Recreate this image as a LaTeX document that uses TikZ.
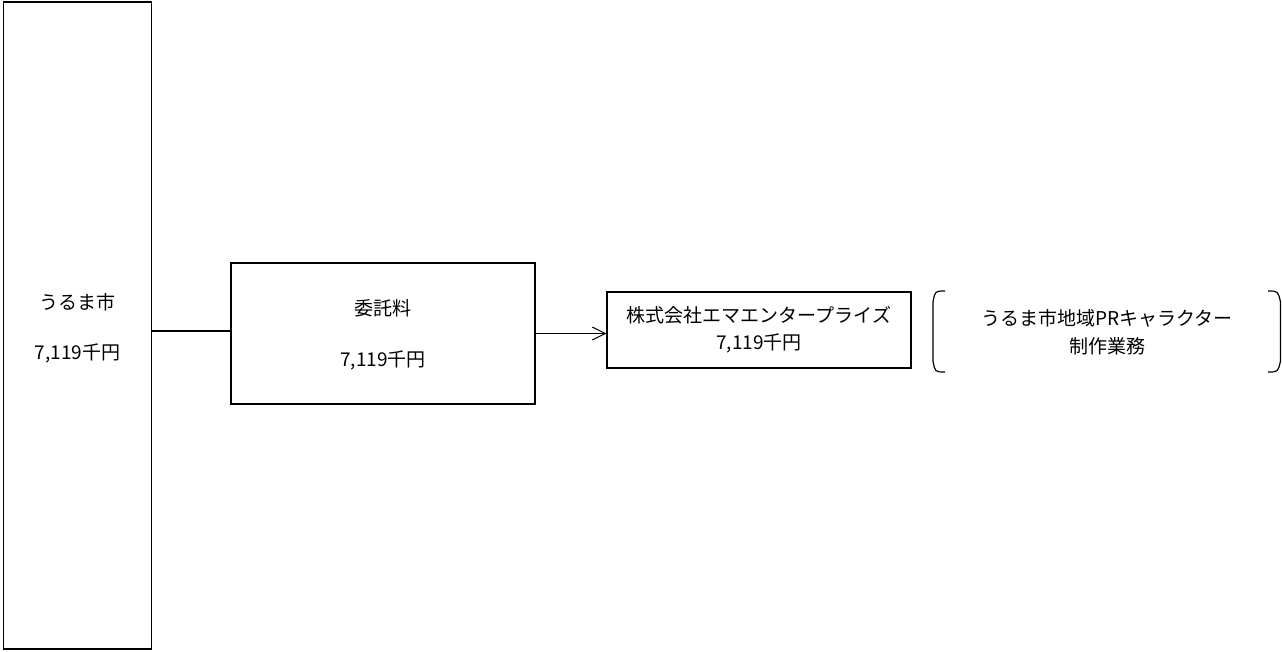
\documentclass[tikz,border=0pt]{standalone}
\usepackage{fontspec}
\setmainfont{Noto Sans CJK JP}
\usetikzlibrary{arrows.meta}

\begin{document}
\begin{tikzpicture}[x=1pt, y=-1pt, line width=1.2pt,
  box/.style={draw, inner sep=0pt},
  lbl/.style={font=\fontsize{19}{22}\selectfont, inner sep=0pt},
  flow/.style={-{Straight Barb[length=13pt,width=13pt,line width=1pt]}}]
\useasboundingbox (0, 0) rectangle (1282, 651);

\node [box, line width=1.6pt, minimum width=148pt, minimum height=647pt] (city) at (77.5, 325.5) {};
\node [lbl] (cityname) at (77.5, 302) {うるま市};
\node [lbl] (cityamount) at (77.5, 353) {7,119千円};

\node [box, minimum width=304pt, minimum height=141pt] (fee) at (383, 333.5) {};
\node [lbl] (feename) at (383, 308) {委託料};
\node [lbl] (feeamount) at (383, 360) {7,119千円};

\node [box, minimum width=304pt, minimum height=76pt] (company) at (759, 330) {};
\node [lbl] (companyname) at (759, 315) {株式会社エマエンタープライズ};
\node [lbl] (companyamount) at (759, 343) {7,119千円};

\node [lbl] (taskname) at (1107, 318) {うるま市地域PRキャラクター};
\node [lbl] (tasktype) at (1107, 346) {制作業務};
\draw (945, 291) .. controls (935, 291) .. (933, 302) -- (933, 361) .. controls (935, 372) .. (945, 372);
\draw (1268, 291) .. controls (1278, 291) .. (1280.5, 302) -- (1280.5, 361) .. controls (1278, 372) .. (1268, 372);

\draw (fee.west |- 0, 331) -- (city.east |- 0, 331);
\draw [flow] (fee.east) -- (company.west |- fee.east);
\end{tikzpicture}
\end{document}
